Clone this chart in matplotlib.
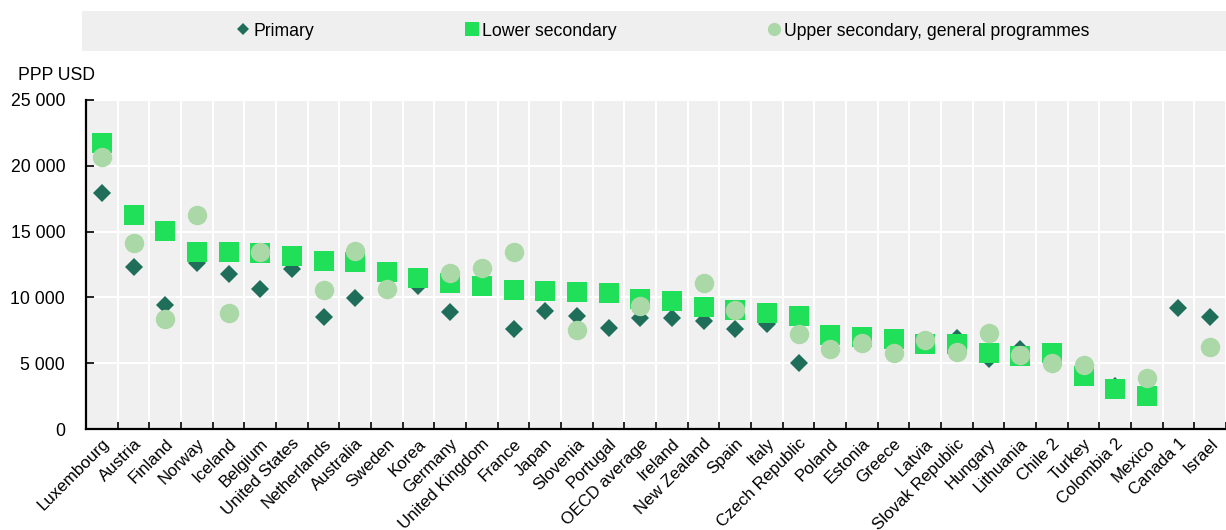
import numpy as np
import matplotlib
matplotlib.use("Agg")
import matplotlib.pyplot as plt
from matplotlib import font_manager
from matplotlib.patches import Rectangle
from matplotlib.ticker import FuncFormatter, MultipleLocator

countries = ["Luxembourg", "Austria", "Finland", "Norway", "Iceland", "Belgium",
             "United States", "Netherlands", "Australia", "Sweden", "Korea", "Germany",
             "United Kingdom", "France", "Japan", "Slovenia", "Portugal", "OECD average",
             "Ireland", "New Zealand", "Spain", "Italy", "Czech Republic", "Poland",
             "Estonia", "Greece", "Latvia", "Slovak Republic", "Hungary", "Lithuania",
             "Chile 2", "Turkey", "Colombia 2", "Mexico", "Canada 1", "Israel"]

nan = np.nan
primary = [17950, 12290, 9420, 12590, 11760, 10620,
           12140, 8540, 9980, 11570, 10900, 8910,
           nan, 7580, 8970, 8590, 7650, 8410,
           8410, 8210, 7600, 7950, 5040, 7100,
           6950, 6800, 6450, 6890, 5350, 6050,
           5700, 4000, 3270, 2550, 9170, 8490]

lower_secondary = [21760, 16260, 15050, 13470, 13470, 13400,
                   13150, 12790, 12720, 11960, 11450, 11070,
                   10870, 10560, 10510, 10440, 10360, 9880,
                   9750, 9300, 9040, 8840, 8590, 7140,
                   7010, 6820, 6460, 6460, 5750, 5570,
                   5750, 4030, 3040, 2510, nan, nan]

upper_secondary = [20690, 14160, 8380, 16240, 8840, 13420,
                   nan, 10560, 13530, 10620, nan, 11880,
                   12210, 13420, nan, 7520, nan, 9370,
                   nan, 11120, 9040, nan, 7220, 6080,
                   6510, 5750, 6760, 5880, 7270, 5620,
                   4990, 4860, nan, 3900, nan, 6260]

c_primary = "#1e6e5a"
c_lower = "#20e05a"
c_upper = "#aad8a6"

# narrow font like the original if it is there, else plain Liberation Sans
try:
    font_manager.findfont("Liberation Sans Narrow", fallback_to_default=False)
    plt.rcParams["font.family"] = ["Liberation Sans Narrow", "DejaVu Sans"]
    fs = 14.5
except ValueError:
    plt.rcParams["font.family"] = ["Liberation Sans", "DejaVu Sans"]
    fs = 12.2

fig = plt.figure(figsize=(12.26, 5.30), dpi=100)
ax = fig.add_axes([86 / 1226, 1 - 429 / 530, 1 - 86 / 1226, 329 / 530])
ax.set_facecolor("#f0f0f0")

x = np.arange(len(countries))
ax.plot(x, primary, "D", color=c_primary, markersize=8.7, markeredgewidth=0,
        label="Primary", zorder=3)
ax.plot(x, lower_secondary, "s", color=c_lower, markersize=13.8, markeredgewidth=0,
        label="Lower secondary", zorder=4)
ax.plot(x, upper_secondary, "o", color=c_upper, markersize=14, markeredgewidth=0,
        label="Upper secondary, general programmes", zorder=5)

ax.set_xlim(-0.5, len(countries) - 0.5)
ax.set_ylim(0, 25000)
ax.yaxis.set_major_locator(MultipleLocator(5000))
ax.yaxis.set_major_formatter(FuncFormatter(lambda v, p: f"{int(v):,}".replace(",", " ")))

ax.set_xticks(x)
ax.set_xticklabels(countries, rotation=45, ha="right", rotation_mode="anchor")
ax.set_xticks(np.arange(len(countries) + 1) - 0.5, minor=True)
ax.tick_params(axis="x", which="major", length=0, pad=5, labelsize=fs)
ax.tick_params(axis="x", which="minor", direction="in", length=5, width=1.2)
ax.tick_params(axis="y", direction="in", length=6, width=1.2, labelsize=fs + 0.5, pad=15)

ax.grid(True, axis="y", color="white", linewidth=1.5, zorder=1)
ax.grid(True, axis="x", which="minor", color="white", linewidth=1.5, zorder=1)
ax.set_axisbelow(True)

for side in ["top", "right"]:
    ax.spines[side].set_visible(False)
for side in ["left", "bottom"]:
    ax.spines[side].set_linewidth(1.6)
    ax.spines[side].set_color("black")

fig.text(18 / 1226, 1 - 75 / 530, "PPP USD", fontsize=fs + 0.5, va="center", ha="left")

fig.patches.append(Rectangle((82 / 1226, 1 - 51 / 530), 1 - 82 / 1226, 40 / 530,
                             transform=fig.transFigure, facecolor="#efefef",
                             edgecolor="none", zorder=0))
handles, labels = ax.get_legend_handles_labels()
fig.legend(handles, labels, loc="center", bbox_to_anchor=(663 / 1226, 1 - 31 / 530),
           ncol=3, frameon=False, fontsize=fs + 0.5, markerscale=0.68,
           handlelength=0.8, handletextpad=0.2, columnspacing=8.5)

fig.savefig("out.png", dpi=100)
